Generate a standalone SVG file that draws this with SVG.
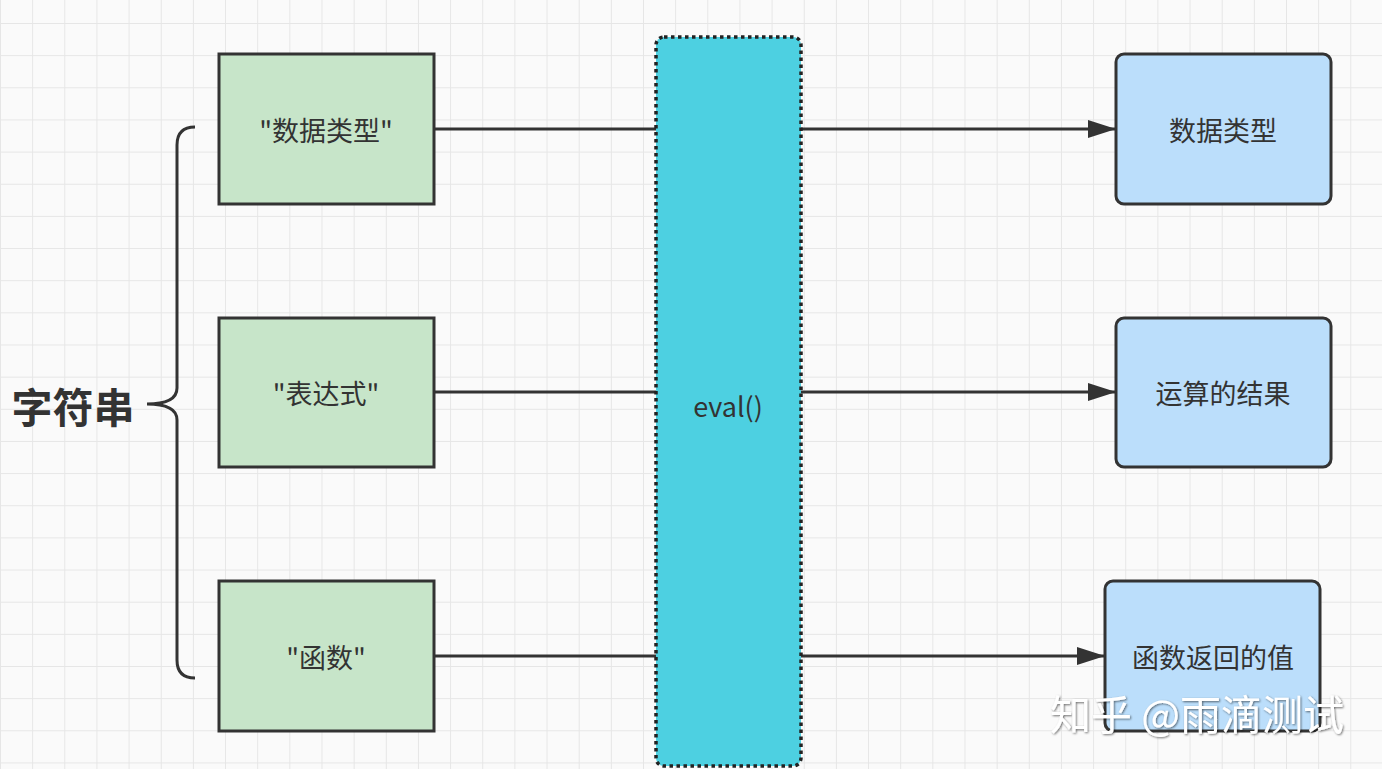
<svg xmlns="http://www.w3.org/2000/svg" width="1382" height="769" viewBox="0 0 1382 769">
<defs>
<pattern id="grid" x="0" y="23" width="32.15" height="32.15" patternUnits="userSpaceOnUse">
<path d="M0 0H32.15M0 0V32.15" fill="none" stroke="#e6e6e6" stroke-width="2"/>
</pattern>
<marker id="arr" markerWidth="28" markerHeight="18" refX="28" refY="9" orient="auto" markerUnits="userSpaceOnUse">
<path d="M0 0L28 9L0 18Z" fill="#333"/>
</marker>
<filter id="sh" x="-10%" y="-20%" width="120%" height="140%">
<feDropShadow dx="1" dy="1" stdDeviation="1.2" flood-color="#000" flood-opacity="0.55"/>
</filter>
</defs>
<style>
.g{fill:#c7e5c9;stroke:#333;stroke-width:3}
.b{fill:#bbdefb;stroke:#333;stroke-width:3}
.t{font-family:"Noto Sans CJK SC","Noto Sans",sans-serif;font-size:27px;fill:#333;text-anchor:middle;dominant-baseline:central}
.c{fill:none;stroke:#333;stroke-width:3}
</style>
<rect width="1382" height="769" fill="#fafafa"/>
<rect width="1382" height="769" fill="url(#grid)"/>
<g id="connectors">
<path class="c" d="M434 129H656"/>
<path class="c" d="M434 392H656"/>
<path class="c" d="M434 656H656"/>
<path class="c" d="M801 129H1116" marker-end="url(#arr)"/>
<path class="c" d="M801 392H1116" marker-end="url(#arr)"/>
<path class="c" d="M801 656H1105" marker-end="url(#arr)"/>
</g>
<g id="brace">
<path class="c" d="M195 127Q177 127 177 145V388Q177 404 147 404Q177 404 177 420V660Q177 678 195 678"/>
<text x="73" y="405" style="font-family:'Noto Sans CJK SC',sans-serif;font-size:41px;font-weight:bold;fill:#333;text-anchor:middle;dominant-baseline:central">字符串</text>
</g>
<g id="in1"><rect class="g" x="219" y="54" width="215" height="150"/><text class="t" x="326" y="129">"数据类型"</text></g>
<g id="in2"><rect class="g" x="219" y="318" width="215" height="149"/><text class="t" x="326" y="392">"表达式"</text></g>
<g id="in3"><rect class="g" x="219" y="581" width="215" height="150"/><text class="t" x="326" y="656">"函数"</text></g>
<g id="eval"><rect x="656" y="37" width="145" height="729" rx="8" fill="#4dd0e1" stroke="#222" stroke-width="3.5" stroke-dasharray="3.5 3.5"/><text class="t" x="728" y="405">eval()</text></g>
<g id="out1"><rect class="b" x="1116" y="54" width="215" height="150" rx="8"/><text class="t" x="1223" y="129">数据类型</text></g>
<g id="out2"><rect class="b" x="1116" y="318" width="215" height="149" rx="8"/><text class="t" x="1223" y="392">运算的结果</text></g>
<g id="out3"><rect class="b" x="1105" y="581" width="215" height="150" rx="8"/><text class="t" x="1213" y="656">函数返回的值</text></g>
<text x="1197" y="712" filter="url(#sh)" style="font-family:'Noto Sans CJK SC',sans-serif;font-size:41px;fill:#fff;text-anchor:middle;dominant-baseline:central">知乎 @雨滴测试</text>
</svg>
